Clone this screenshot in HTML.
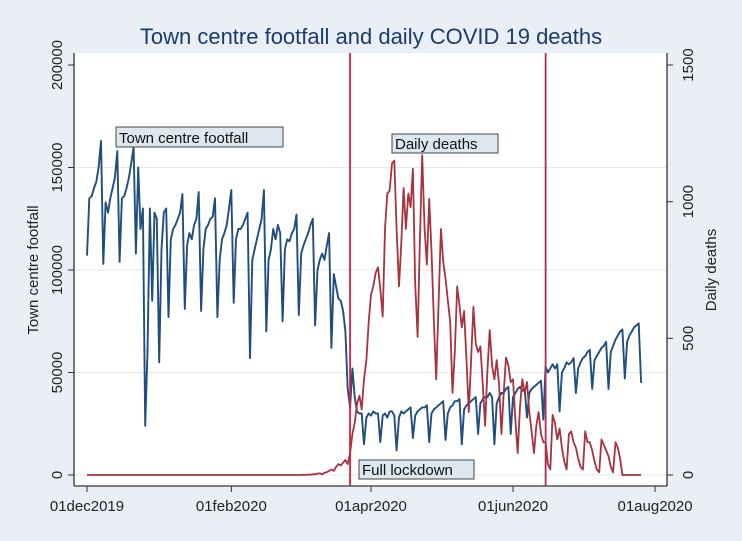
<!DOCTYPE html>
<html><head><meta charset="utf-8"><style>
html,body{margin:0;padding:0;background:#e9eff4;}
svg{display:block;font-family:"Liberation Sans",sans-serif;}
</style></head><body>
<svg id="chart" width="742" height="541" viewBox="0 0 742 541">
<rect x="0" y="0" width="742" height="541" fill="#e9eff4"/>
<rect x="74" y="53" width="593" height="433" fill="#ffffff"/>
<text x="371" y="44" text-anchor="middle" font-size="22" fill="#1b3b6f">Town centre footfall and daily COVID 19 deaths</text>
<g id="grid"></g>
<g id="axes"></g>
<g id="series"></g>
<g id="annot"></g>
</svg>
<script>
const xTickLabels = ["01dec2019","01feb2020","01apr2020","01jun2020","01aug2020"];
const xTickDays = [0,62,122,183,244];
const leftTicks = [0,50000,100000,150000,200000];
const rightTicks = [0,500,1000,1500];
const lockdownDays = [113,197];
const footfallK = [
107,135,136,140,143,150,163,
103,133,128,135,140,145,158,
104,135,136,140,145,152,160,
108,150,120,130,24,60,130,
85,128,125,55,110,128,130,
77,115,120,122,125,128,137,
81,112,118,115,122,125,138,
80,110,120,122,125,126,135,
77,105,115,118,122,130,139,
84,115,120,120,122,125,128,
57,105,110,115,120,125,139,
70,105,110,120,115,122,118,
75,110,115,114,118,120,127,
78,108,112,115,118,122,125,
73,100,105,108,105,112,118,
62,98,92,86,85,80,70,
42,33,52,38,31,30,30,
15,28,30,29,31,30,30,
16,29,30,28,31,31,29,
12,28,31,30,31,32,33,
18,29,31,32,33,33,34,
16,30,32,33,34,35,36,
17,30,33,34,36,36,37,
15,32,34,35,36,37,38,
20,35,37,38,38,40,38,
15,35,38,40,40,42,43,
20,38,40,42,43,41,42,
28,40,42,43,44,45,46,
27,53,50,52,54,52,54,
31,50,52,55,54,55,57,
40,52,55,57,58,60,61,
42,56,58,60,62,63,65,
42,60,63,66,68,70,71,
47,65,68,70,72,73,74,
45];
const deathsEarly = [0,0,1,0,2,1,3,2,5,6,3,8,10,15,20,15,30,40,35,45,55,40];
const deathsLate = [80,150,190,260,290,240,350,420,560,660,690,740,760,680,580,900,1030,1040,1140,1150,900,690,850,1050,900,1030,980,1120,700,505,860,1170,900,770,1010,820,560,350,620,900,780,720,640,560,300,450,690,620,540,600,420,230,420,615,480,450,470,330,180,380,530,400,350,420,330,150,300,430,400,340,350,200,80,250,350,300,340,230,160,80,180,230,150,120,120,40,20,220,190,130,170,100,50,20,150,160,120,100,60,30,20,160,120,120,90,50,20,10,130,110,90,70,30,10,120,100,60,0,0,0,0,0,0,0,0,0];

const NS="http://www.w3.org/2000/svg";
const X0=87, PXD=2.328, YB=475, YT=65;
const xS = d => X0 + d*PXD;
const yL = v => YB - v/200000*(YB-YT);
const yR = v => YB - v/1500*(YB-YT);
function mk(tag, attrs, parent){const e=document.createElementNS(NS,tag);for(const k in attrs)e.setAttribute(k,attrs[k]);document.getElementById(parent).appendChild(e);return e;}

const deaths=[];
for(let i=0;i<91;i++)deaths.push(0);
deathsEarly.forEach(v=>deaths.push(v));
deathsLate.forEach(v=>deaths.push(v));

leftTicks.forEach(v=>{ if(v<200000){
 const g=mk('line',{x1:74,x2:667,y1:yL(v),y2:yL(v),stroke:'#e6eaee','stroke-width':1},'grid');
 
 
}});
let a=mk('line',{x1:74,x2:74,y1:53,y2:486,stroke:'#333','stroke-width':1.3},'axes');


a=mk('line',{x1:667,x2:667,y1:53,y2:486,stroke:'#333','stroke-width':1.3},'axes');


a=mk('line',{x1:74,x2:667,y1:486,y2:486,stroke:'#333','stroke-width':1.3},'axes');


leftTicks.forEach(v=>{
 const y=yL(v);
 const t=mk('line',{x1:68,x2:74,y1:y,y2:y,stroke:'#333'},'axes');
 
 
 const l=mk('text',{x:0,y:0,transform:`translate(62,${y}) rotate(-90)`,'text-anchor':'middle','font-size':15,fill:'#222'},'axes');
 l.textContent=v;
 
 
});
rightTicks.forEach(v=>{
 const y=yR(v);
 const t=mk('line',{x1:667,x2:673,y1:y,y2:y,stroke:'#333'},'axes');
 
 
 const l=mk('text',{x:0,y:0,transform:`translate(693,${y}) rotate(-90)`,'text-anchor':'middle','font-size':15,fill:'#222'},'axes');
 l.textContent=v;
 
 
});
xTickDays.forEach((d,i)=>{
 const x=xS(d);
 const t=mk('line',{x1:x,x2:x,y1:486,y2:492,stroke:'#333'},'axes');
 
 
 const l=mk('text',{x:x,y:511,'text-anchor':'middle','font-size':15,fill:'#222'},'axes');
 l.textContent=xTickLabels[i];
 
 
});
let ti=mk('text',{x:0,y:0,transform:'translate(38,270) rotate(-90)','text-anchor':'middle','font-size':15,fill:'#222'},'axes');
ti.textContent='Town centre footfall';


ti=mk('text',{x:0,y:0,transform:'translate(716,270) rotate(-90)','text-anchor':'middle','font-size':15,fill:'#222'},'axes');
ti.textContent='Daily deaths';



const ptsF=footfallK.map((v,i)=>xS(i).toFixed(1)+','+yL(v*1000).toFixed(1)).join(' ');
const pf=mk('polyline',{points:ptsF,fill:'none',stroke:'#1f4e7e','stroke-width':1.9,'stroke-linejoin':'round'},'series');


const ptsD=deaths.map((v,i)=>xS(i).toFixed(1)+','+yR(v).toFixed(1)).join(' ');
const pd=mk('polyline',{points:ptsD,fill:'none',stroke:'#a8323e','stroke-width':1.8,'stroke-linejoin':'round'},'series');


const lcol=['#d81e3c','#b02a55'];
lockdownDays.forEach((d,i)=>{
 const l=mk('line',{x1:xS(d),x2:xS(d),y1:53,y2:486,stroke:lcol[i],'stroke-width':1.8},'annot');
 
 
});
function label(x,y,w,h,txt,name){
 const r=mk('rect',{x:x,y:y,width:w,height:h,fill:'#dde7f0',stroke:'#444','stroke-width':1},'annot');
 
 
 const t=mk('text',{x:x+3,y:y+h-4,'font-size':15,fill:'#111'},'annot');
 t.textContent=txt;
 
 
}
label(116,127,167,20,'Town centre footfall','footfall-label');
label(392,134,106,19,'Daily deaths','deaths-label');
label(359,460,115,19,'Full lockdown','lockdown-label');
</script>
</body></html>
